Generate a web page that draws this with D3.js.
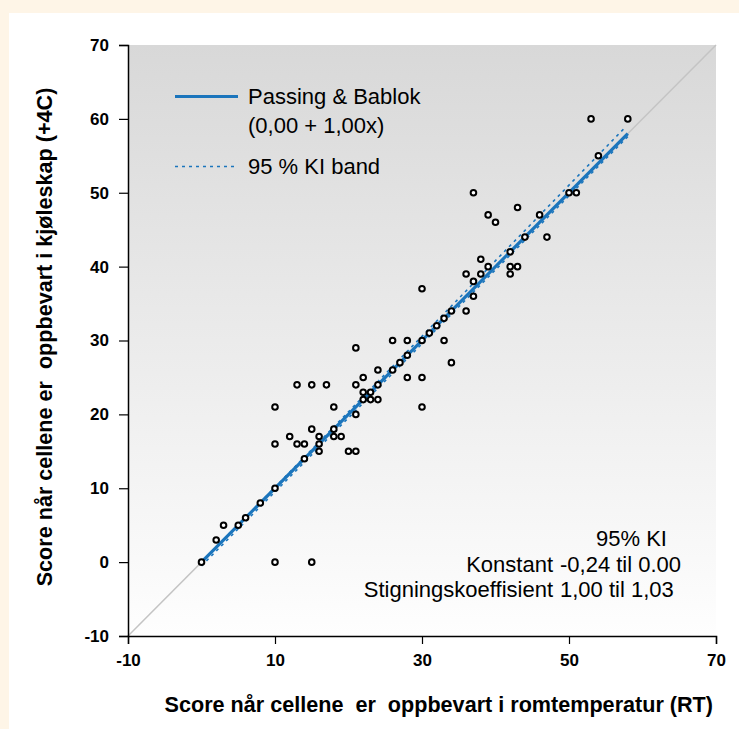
<!DOCTYPE html>
<html>
<head>
<meta charset="utf-8">
<script src="https://cdnjs.cloudflare.com/ajax/libs/d3/7.8.5/d3.min.js"></script>
<style>
  body { margin: 0; background: #fef5e7; }
  text { font-family: "Liberation Sans", Arial, Helvetica, sans-serif; fill: #000; }
  .tick-label { font-size: 17px; font-weight: bold; }
  .axis-title { font-size: 21.6px; font-weight: bold; white-space: pre; }
  .legend-label, .note { font-size: 22px; }
</style>
</head>
<body>
<svg id="chart"></svg>
<script>
// score at room temperature (RT) vs score in fridge (+4C)
const rtScores = [0, 2, 3, 5, 6, 8, 10, 10, 15, 10, 10, 12, 13, 14, 14, 15, 16, 16, 16, 18, 18, 19, 18,
  13, 15, 17, 20, 21, 21, 21, 22, 21, 22, 22, 23, 23, 24, 24, 24, 26, 26, 27, 28, 28, 28, 30, 30, 30, 30,
  31, 33, 34, 32, 33, 34, 36, 37, 37, 36, 38, 38, 39, 42, 43, 42, 42, 44, 47, 46, 43, 39, 40, 37,
  53, 58, 54, 50, 51];
const fridgeScores = [0, 3, 5, 5, 6, 8, 10, 0, 0, 16, 21, 17, 16, 16, 14, 18, 17, 16, 15, 18, 17, 17, 21,
  24, 24, 24, 15, 15, 29, 24, 25, 20, 23, 22, 23, 22, 22, 24, 26, 26, 30, 27, 28, 30, 25, 30, 37, 25, 21,
  31, 30, 27, 32, 33, 34, 34, 36, 38, 39, 39, 41, 40, 40, 40, 39, 42, 44, 44, 47, 48, 47, 46, 50,
  60, 60, 55, 50, 50];

// Passing & Bablok fit and 95 % KI band (end points)
const fitLine = [[0, 0], [58, 58]];
const bandUpper = [[0, -0.1], [57.5, 58.7]];
const bandLower = [[0, -0.5], [58, 57.6]];
const identity = [[-10, -10], [70, 70]];

const xTicks = [-10, 10, 30, 50, 70];
const yTicks = [-10, 0, 10, 20, 30, 40, 50, 60, 70];

const legendItems = ['Passing & Bablok', '(0,00 + 1,00x)', '95 % KI band'];
const noteHeader = '95% KI';
const noteLabels = ['Konstant', 'Stigningskoeffisient'];
const noteValues = ['-0,24 til 0.00', '1,00 til 1,03'];

const xTitle = 'Score når cellene  er  oppbevart i romtemperatur (RT)';
const yTitle = 'Score når cellene er  oppbevart i kjøleskap (+4C)';

let W = 739, H = 729,
  margin = { left: 128, top: 45, right: 23, bottom: 93 };
let w = W - margin.left - margin.right,
  h = H - margin.top - margin.bottom;

const blue = '#1b75bc';

let svg = d3.select('#chart')
  .attr('width', W)
  .attr('height', H);

// white panel
svg.append('rect')
  .attr('x', 9).attr('y', 13)
  .attr('width', W - 9).attr('height', H - 13)
  .attr('fill', '#fff');

let grad = svg.append('defs').append('linearGradient')
  .attr('id', 'bg').attr('x1', 0).attr('y1', 0).attr('x2', 0).attr('y2', 1);
grad.append('stop').attr('offset', '0%').attr('stop-color', '#d8d8d8');
grad.append('stop').attr('offset', '100%').attr('stop-color', '#fefefe');

let x = d3.scaleLinear().domain([-10, 70]).range([0, w]);
let y = d3.scaleLinear().domain([-10, 70]).range([h, 0]);

let g = svg.append('g').attr('transform', `translate(${margin.left},${margin.top})`);

g.append('rect')
  .attr('width', w).attr('height', h)
  .attr('fill', 'url(#bg)');

let line = d3.line().x(d => x(d[0])).y(d => y(d[1]));

// identity line
g.append('path')
  .attr('d', line(identity))
  .attr('stroke', '#c4c4c4')
  .attr('stroke-width', 1.5)
  .attr('fill', 'none');

// KI band
g.selectAll('.band')
  .data([bandLower, bandUpper])
  .enter()
  .append('path')
  .attr('class', 'band')
  .attr('d', d => line(d))
  .attr('stroke', blue)
  .attr('stroke-width', 1.6)
  .attr('stroke-dasharray', '3,4')
  .attr('fill', 'none');

// fit
g.append('path')
  .attr('d', line(fitLine))
  .attr('stroke', blue)
  .attr('stroke-width', 3.2)
  .attr('fill', 'none');

// points
g.append('g')
  .selectAll('circle')
  .data(rtScores)
  .enter()
  .append('circle')
  .attr('cx', d => x(d))
  .attr('cy', (d, i) => y(fridgeScores[i]))
  .attr('r', 2.8)
  .attr('fill', '#fff')
  .attr('stroke', '#000')
  .attr('stroke-width', 2);

// axes
let xAxis = g.append('g')
  .attr('transform', `translate(0,${h})`)
  .call(d3.axisBottom(x).tickValues(xTicks).tickSize(8).tickPadding(10).tickFormat(d3.format('d')));
let yAxis = g.append('g')
  .call(d3.axisLeft(y).tickValues(yTicks).tickSize(9).tickPadding(10).tickFormat(d3.format('d')));

[xAxis, yAxis].forEach(a => {
  a.select('.domain').attr('stroke', '#000').attr('stroke-width', 1.5);
  a.selectAll('.tick line').attr('stroke', '#000').attr('stroke-width', 1.2);
  a.selectAll('.tick text')
    .attr('class', 'tick-label')
    .attr('font-family', null).attr('font-size', null)
    .text(d => d < 0 ? '-' + Math.abs(d) : d);
});

// axis titles
svg.append('text')
  .attr('class', 'axis-title')
  .attr('x', 713).attr('y', 712)
  .attr('text-anchor', 'end')
  .text(xTitle);

svg.append('text')
  .attr('class', 'axis-title')
  .attr('transform', `translate(52,337) rotate(-90)`)
  .attr('text-anchor', 'middle')
  .text(yTitle);

// legend
let legend = svg.append('g');
legend.append('line')
  .attr('x1', 175).attr('x2', 238).attr('y1', 96.5).attr('y2', 96.5)
  .attr('stroke', blue).attr('stroke-width', 3);
legend.append('line')
  .attr('x1', 175).attr('x2', 238).attr('y1', 166.5).attr('y2', 166.5)
  .attr('stroke', blue).attr('stroke-width', 1.6).attr('stroke-dasharray', '3,4');
legend.selectAll('.legend-label')
  .data(legendItems)
  .enter()
  .append('text')
  .attr('class', 'legend-label')
  .attr('x', 248)
  .attr('y', (d, i) => [104, 133, 174][i])
  .text(d => d);

// KI note
let noteX = 553;
svg.append('text')
  .attr('class', 'note')
  .attr('x', noteX + 43).attr('y', 546)
  .text(noteHeader);
noteLabels.forEach((label, i) => {
  svg.append('text')
    .attr('class', 'note')
    .attr('x', noteX).attr('y', 572 + i * 25)
    .attr('text-anchor', 'end')
    .text(label);
  svg.append('text')
    .attr('class', 'note')
    .attr('x', noteX + 7).attr('y', 572 + i * 25)
    .text(noteValues[i]);
});
</script>
</body>
</html>
